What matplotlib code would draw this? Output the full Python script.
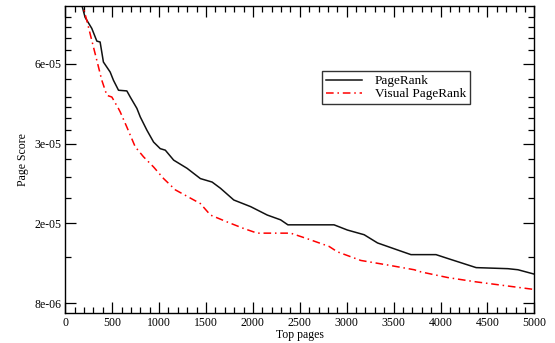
import matplotlib
matplotlib.use("Agg")
import matplotlib.pyplot as plt
from matplotlib.ticker import FixedLocator, FixedFormatter, NullFormatter

# ---- data ----
pr_x = [150, 211, 282, 336, 371, 406, 478, 513, 567, 656, 692, 763, 799, 870, 941,
        1012, 1066, 1155, 1298, 1440, 1565, 1654, 1796, 1976, 2153, 2295, 2373, 2865,
        3008, 3186, 3329, 3543, 3685, 3952, 4077, 4380, 4719, 4826, 5000]
pr_y = [1.15e-4, 9.56e-5, 8.69e-5, 7.78e-5, 7.72e-5, 6.49e-5, 5.95e-5, 5.54e-5, 5.08e-5,
        5.05e-5, 4.79e-5, 4.34e-5, 4.03e-5, 3.59e-5, 3.24e-5, 3.06e-5, 3.02e-5, 2.77e-5,
        2.58e-5, 2.36e-5, 2.29e-5, 2.17e-5, 1.96e-5, 1.85e-5, 1.72e-5, 1.65e-5, 1.58e-5,
        1.58e-5, 1.51e-5, 1.45e-5, 1.35e-5, 1.27e-5, 1.22e-5, 1.22e-5, 1.18e-5, 1.09e-5,
        1.08e-5, 1.07e-5, 1.03e-5]

vpr_x = [150, 229, 282, 336, 389, 443, 496, 567, 585, 656, 745, 834, 941, 1048, 1173,
         1440, 1547, 1725, 1903, 2046, 2402, 2581, 2812, 2901, 3150, 3436, 3720, 3792,
         4077, 4362, 4719, 4986, 5000]
vpr_y = [1.18e-4, 9.31e-5, 7.83e-5, 6.58e-5, 5.54e-5, 4.86e-5, 4.79e-5, 4.33e-5, 4.21e-5,
         3.69e-5, 3.11e-5, 2.85e-5, 2.61e-5, 2.36e-5, 2.14e-5, 1.90e-5, 1.72e-5, 1.62e-5,
         1.53e-5, 1.47e-5, 1.47e-5, 1.40e-5, 1.31e-5, 1.25e-5, 1.16e-5, 1.115e-5, 1.07e-5,
         1.05e-5, 1.00e-5, 9.65e-6, 9.29e-6, 9.03e-6, 9.0e-6]

y_major = [8e-6, 1.6e-5, 3.2e-5, 6.4e-5]
y_major_labels = ["8e-06", "2e-05", "3e-05", "6e-05"]
y_minor = [1.2e-5, 2.0e-5, 2.4e-5, 2.8e-5, 3.6e-5, 4.0e-5, 4.4e-5, 4.8e-5, 5.6e-5,
           7.2e-5, 8.0e-5, 8.8e-5, 9.6e-5]
x_major = list(range(0, 5001, 500))
x_minor = list(range(0, 5001, 100))

serif = ["Liberation Serif", "DejaVu Serif"]
plt.rcParams["font.family"] = serif

fig = plt.figure(figsize=(5.55, 3.43), dpi=100)
ax = fig.add_axes([0.1177, 0.0883, 0.9627 - 0.1177, 0.9834 - 0.0883])

ax.plot(pr_x, pr_y, color="#111111", lw=1.1, label="PageRank")
ax.plot(vpr_x, vpr_y, color="#ff0000", lw=1.1, dashes=(5, 2.5, 1, 2.5),
        label="Visual PageRank")

ax.set_yscale("log", base=2)
ax.set_xlim(0, 5000)
ax.set_ylim(7.37e-6, 1.058e-4)

ax.yaxis.set_major_locator(FixedLocator(y_major))
ax.yaxis.set_major_formatter(FixedFormatter(y_major_labels))
ax.yaxis.set_minor_locator(FixedLocator(y_minor))
ax.yaxis.set_minor_formatter(NullFormatter())
ax.xaxis.set_major_locator(FixedLocator(x_major))
ax.xaxis.set_minor_locator(FixedLocator(x_minor))

ax.tick_params(which="both", direction="in", top=True, right=True,
               labelsize=8.5, width=0.9, pad=3)
ax.tick_params(which="major", length=8)
ax.tick_params(which="minor", length=4.5)
for s in ax.spines.values():
    s.set_linewidth(1.0)

ax.set_xlabel("Top pages", fontsize=8.5, labelpad=0)
ax.set_ylabel("Page Score", fontsize=8.5, labelpad=4)

leg = ax.legend(loc="upper left", bbox_to_anchor=(0.548, 0.787), frameon=True,
                fancybox=False, edgecolor="black", fontsize=9.5, handlelength=2.7,
                handletextpad=1.0, borderpad=0.3, labelspacing=0.05,
                borderaxespad=0)
leg.get_frame().set_linewidth(1.0)

fig.savefig("out.png", dpi=100)
